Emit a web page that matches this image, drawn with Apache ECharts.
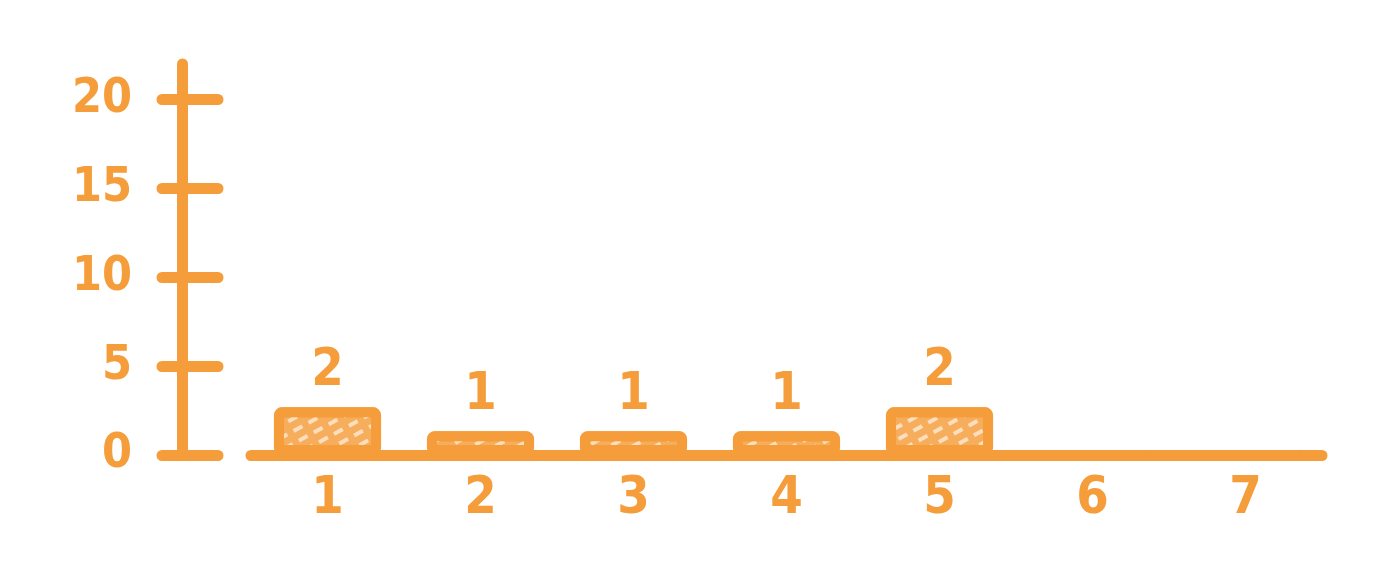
<!DOCTYPE html>
<html>
<head>
<meta charset="utf-8">
<script src="https://cdn.jsdelivr.net/npm/echarts@6/dist/echarts.min.js"></script>
<style>
  html, body { margin: 0; padding: 0; background: #fff; }
  #chart { width: 1398px; height: 565px; }
</style>
</head>
<body>
<div id="chart"></div>
<script>
const categories = ['1', '2', '3', '4', '5', '6', '7'];
const values = [2, 1, 1, 1, 2, 0, 0];
const yTicks = [0, 5, 10, 15, 20];

const ORANGE = '#f49d3a';
const FONT = 'DejaVu Sans Condensed';

const chart = echarts.init(document.getElementById('chart'), null, { renderer: 'canvas' });

const yBase = {
  type: 'value',
  min: 0,
  max: 22,
  position: 'left',
  offset: 69,
  splitLine: { show: false }
};

chart.setOption({
  animation: false,
  backgroundColor: '#ffffff',
  grid: { left: 251, right: 76, top: 64, bottom: 110, containLabel: false },
  xAxis: {
    type: 'category',
    data: categories,
    axisLine: { show: true, lineStyle: { color: ORANGE, width: 11, cap: 'round' } },
    axisTick: { show: false },
    axisLabel: {
      color: ORANGE, fontFamily: FONT, fontWeight: 'bold', fontSize: 52, margin: 18
    },
    splitLine: { show: false }
  },
  yAxis: [
    Object.assign({}, yBase, {
      axisLine: { show: true, lineStyle: { color: ORANGE, width: 11, cap: 'round' } },
      axisTick: { show: true, customValues: yTicks, length: 20, lineStyle: { color: ORANGE, width: 11, cap: 'round' } },
      axisLabel: {
        show: true, customValues: yTicks, margin: 50,
        color: ORANGE, fontFamily: FONT, fontWeight: 'bold', fontSize: 48
      }
    }),
    Object.assign({}, yBase, {
      axisLine: { show: false },
      axisTick: { show: true, inside: true, customValues: yTicks, length: 36, lineStyle: { color: ORANGE, width: 11, cap: 'round' } },
      axisLabel: { show: false }
    }),
    {
      type: 'value', min: 0, max: 16.4, show: false, position: 'left',
      splitLine: { show: false }
    }
  ],
  series: [{
    type: 'bar',
    yAxisIndex: 2,
    data: values,
    barWidth: '70%',
    itemStyle: {
      color: '#f6ad5c',
      borderColor: ORANGE,
      borderWidth: 10,
      borderRadius: 3,
      decal: {
        symbol: 'rect',
        color: 'rgba(255,255,255,0.6)',
        dashArrayX: [[10, 7]],
        dashArrayY: [4, 7],
        rotation: -0.5,
        symbolSize: 1
      }
    },
    label: {
      show: true,
      position: 'top',
      distance: 10,
      color: ORANGE,
      fontFamily: FONT,
      fontWeight: 'bold',
      fontSize: 52,
      formatter: function (p) { return p.value === 0 ? '' : String(p.value); }
    }
  }]
});
</script>
</body>
</html>
